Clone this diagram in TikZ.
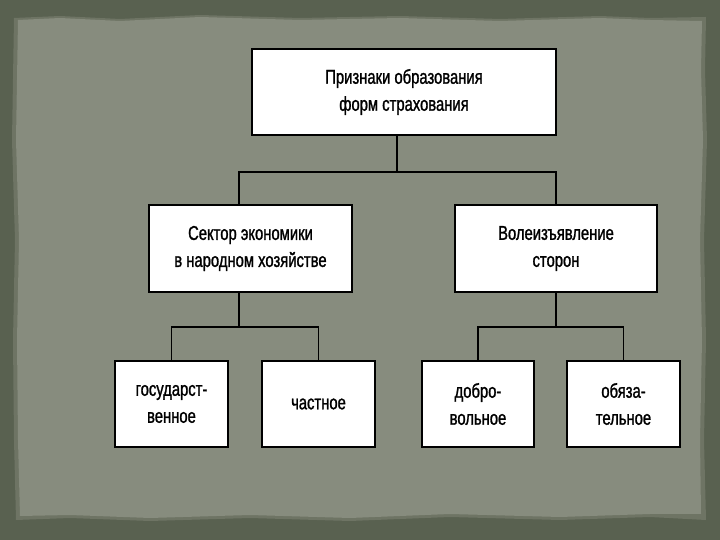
\documentclass[tikz,border=0pt]{standalone}
\usepackage{fontspec}
\setmainfont[FakeStretch=0.74,FakeBold=1.2]{Liberation Sans}
\definecolor{outerbg}{HTML}{596150}
\definecolor{paper}{HTML}{878C7E}
\definecolor{paperedge}{HTML}{6E7464}
\begin{document}
\begin{tikzpicture}[x=1pt,y=1pt,
  box/.style={draw=black,line width=1.4pt,fill=white,align=center,inner sep=0pt,
    font=\fontsize{20}{27}\selectfont},
  conn/.style={draw=black,line width=1.2pt}]
\useasboundingbox (0,0) rectangle (720,540);
\fill[outerbg] (0,0) rectangle (720,540);
% paper with rough edges
\fill[paperedge] (14,522) -- (60,524) -- (120,521) -- (200,525) -- (300,522) -- (400,524) -- (500,521) -- (600,524) -- (650,522) -- (706,523)
  -- (705,470) -- (707,400) -- (704,300) -- (706,200) -- (704,100) -- (706,20)
  -- (650,23) -- (560,20) -- (450,23) -- (350,19) -- (250,22) -- (150,19) -- (70,22) -- (16,20)
  -- (14,100) -- (13,200) -- (15,300) -- (12,400) -- cycle;
\fill[paper] (18,520) -- (60,522) -- (120,519) -- (200,523) -- (300,520) -- (400,522) -- (500,519) -- (600,522) -- (650,520) -- (702,519)
  -- (701,470) -- (703,400) -- (700,300) -- (702,200) -- (700,100) -- (701,26)
  -- (650,26) -- (560,23) -- (450,26) -- (350,22) -- (250,25) -- (150,22) -- (70,25) -- (20,24)
  -- (18,100) -- (17,200) -- (19,300) -- (16,400) -- cycle;
% boxes
\node[box,minimum width=304,minimum height=86] (top) at (404,448) {Признаки образования\\форм страхования};
\node[box,minimum width=203,minimum height=87] (ml) at (250.5,291.5) {Сектор экономики\\в народном хозяйстве};
\node[box,minimum width=202,minimum height=87] (mr) at (556,291.5) {Волеизъявление\\сторон};
\node[box,minimum width=113,minimum height=86] (b1) at (171.5,136) {государст-\\венное};
\node[box,minimum width=113,minimum height=86] (b2) at (318.5,136) {частное};
\node[box,minimum width=112,minimum height=86] (b3) at (478,136) {добро-\\вольное};
\node[box,minimum width=113,minimum height=86] (b4) at (623.5,136) {обяза-\\тельное};
% junctions
\coordinate (j1) at (397,368);
\coordinate (j2) at (239,213);
\coordinate (j3) at (556,213);
\draw[conn] (top.south -| j1) -- (j1);
\draw[conn] (ml.north -| j2) |- (j1) -| (mr.north);
\draw[conn] (ml.south -| j2) -- (j2);
\draw[conn] (b1.north) |- (j2) -| (b2.north);
\draw[conn] (mr.south) -- (j3);
\draw[conn] (b3.north) |- (j3) -| (b4.north);
\end{tikzpicture}
\end{document}
